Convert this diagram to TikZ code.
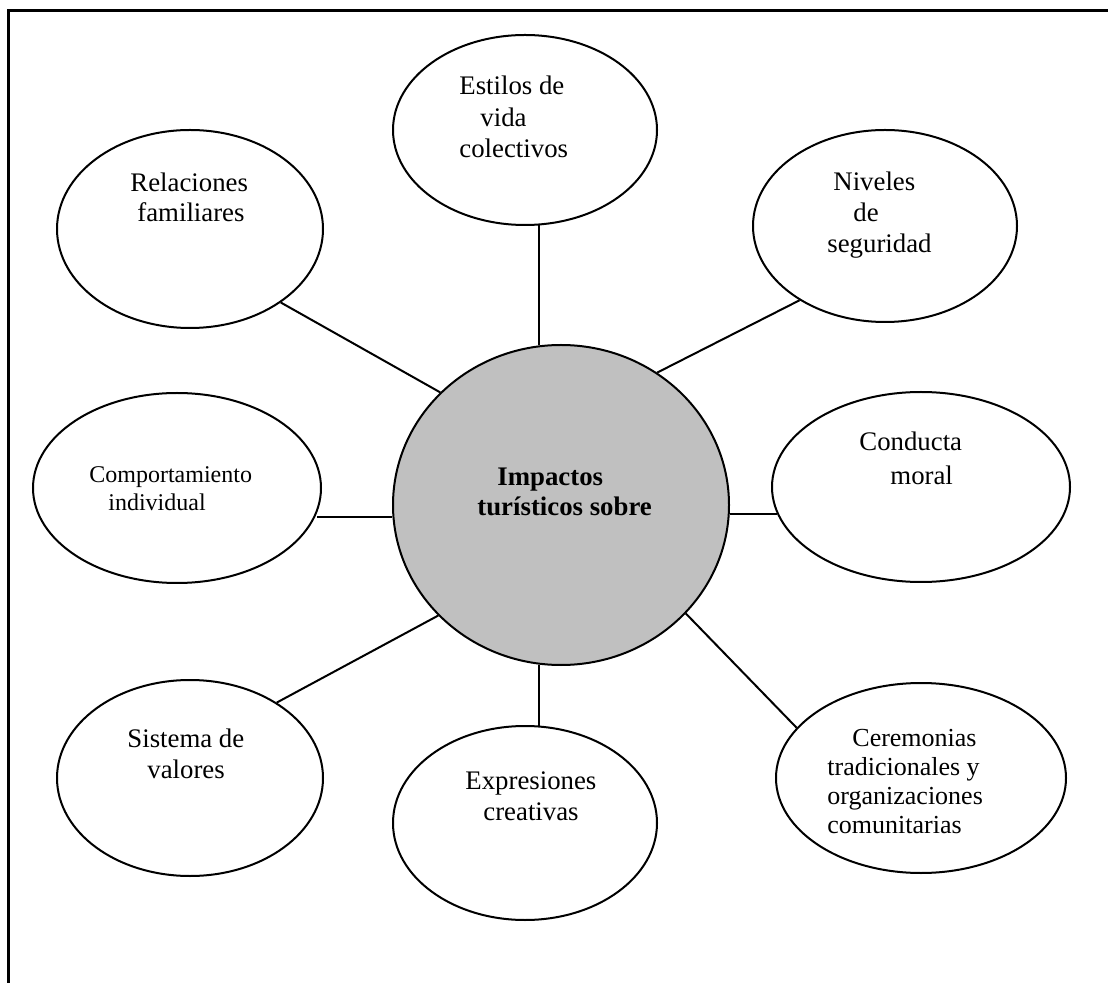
\documentclass[tikz,border=0pt]{standalone}
\usepackage{fontspec}
\setmainfont{Liberation Serif}
\usetikzlibrary{shapes.geometric}
\definecolor{hubgray}{RGB}{192,192,192}
\begin{document}
\begin{tikzpicture}[x=0.5pt,y=-0.5pt,
  bubble/.style={ellipse, draw, line width=1pt, inner sep=0pt},
  link/.style={line width=1pt},
  lbl/.style={anchor=base west, align=left, inner sep=0pt,
    font=\fontsize{13.4}{15.5}\selectfont},
]
\useasboundingbox (0,0) rectangle (1108,983);
% open frame: left and top rules only
\draw[line width=1.5pt] (8.5,983) -- (8.5,10.5) -- (1108,10.5);

% hub and satellites
\node[bubble, fill=hubgray, minimum width=168pt, minimum height=160pt] (cen) at (561,505) {};
\node[bubble, minimum width=132pt, minimum height=95pt] (est) at (525,130) {};
\node[bubble, minimum width=133pt, minimum height=99pt] (rel) at (190,229) {};
\node[bubble, minimum width=132pt, minimum height=96pt] (niv) at (885,226) {};
\node[bubble, minimum width=144pt, minimum height=95pt] (com) at (177,488) {};
\node[bubble, minimum width=149pt, minimum height=95pt] (con) at (921,487) {};
\node[bubble, minimum width=133pt, minimum height=98pt] (sis) at (190,778) {};
\node[bubble, minimum width=132pt, minimum height=97pt] (exp) at (525,823) {};
\node[bubble, minimum width=145pt, minimum height=95pt] (cer) at (921,778) {};

% labels (anchored on the baseline of their last line)
\node[lbl, font=\bfseries\fontsize{13.4}{15}\selectfont] (tcen) at (477,516) {\hspace{10pt}Impactos\\turísticos sobre};
\node[lbl, font=\fontsize{13.4}{15.8}\selectfont] (test) at (459,158) {Estilos de\\\hspace{10.5pt}vida\\colectivos};
\node[lbl, font=\fontsize{13.4}{15}\selectfont] (trel) at (130,222) {Relaciones\\\hspace{3.5pt}familiares};
\node[lbl] (tniv) at (827,253) {\hspace{3pt}Niveles\\\hspace{13pt}de\\seguridad};
\node[lbl, font=\fontsize{12}{14}\selectfont] (tcom) at (89,511) {Comportamiento\\\hspace{9.5pt}individual};
\node[lbl, font=\fontsize{13.4}{17}\selectfont] (tcon) at (859,485) {Conducta\\\hspace{15.5pt}moral};
\node[lbl] (tsis) at (127,778) {Sistema de\\\hspace{10pt}valores};
\node[lbl] (texp) at (465,820) {Expresiones\\\hspace{9pt}creativas};
\node[lbl, font=\fontsize{13}{14.5}\selectfont] (tcer) at (827,833) {\hspace{12.5pt}Ceremonias\\tradicionales y\\organizaciones\\comunitarias};

% spokes: straight ones are kept exactly vertical / horizontal
\draw[link] (est.-82.2 -| cen.98.3) -- (cen.98.3);
\draw[link] (exp.82.3 -| cen.-98.3) -- (cen.-98.3);
\draw[link] (com.-10.6 |- cen.-176.9) -- (cen.-176.9);
\draw[link] (con.-169.3 |- cen.-3.1) -- (cen.-3.1);
\draw[link] (rel.-39.3) -- (cen.137.2);
\draw[link] (niv.-139.7) -- (cen.54.4);
\draw[link] (sis.41.3) -- (cen.-138.5);
\draw[link] (cer.158.4) -- (cen.-41.5);
\end{tikzpicture}
\end{document}
